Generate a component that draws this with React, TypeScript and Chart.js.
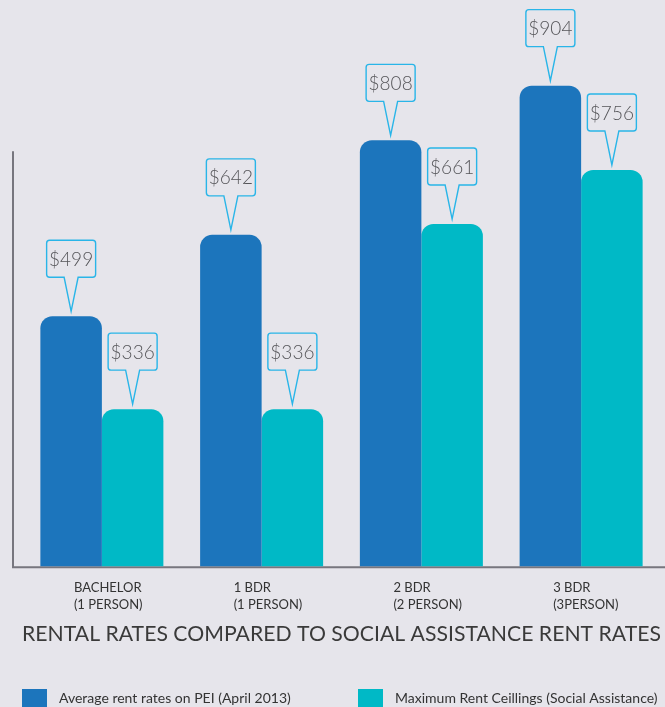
import React, { useEffect, useRef } from 'react';
import { Chart, registerables } from 'chart.js';

Chart.register(...registerables);

const categories: string[][] = [
  ['BACHELOR', '(1 PERSON)'],
  ['1 BDR', '(1 PERSON)'],
  ['2 BDR', '(2 PERSON)'],
  ['3 BDR', '(3PERSON)'],
];
const averageRent = [499, 642, 808, 904];
const maxCeiling = [336, 336, 661, 756];
const seriesNames = [
  'Average rent rates on PEI (April 2013)',
  'Maximum Rent Ceillings (Social Assistance)',
];
const seriesColors = ['#1C75BC', '#00B9C6'];
const titleText = 'RENTAL RATES COMPARED TO SOCIAL ASSISTANCE RENT RATES';

const BG = '#E6E5EB';
const FONT = "Lato, 'Open Sans', sans-serif";

const axisLinesPlugin = {
  id: 'axisLines',
  beforeDatasetsDraw(chart: any) {
    const { ctx, chartArea } = chart;
    ctx.save();
    ctx.strokeStyle = '#77767E';
    ctx.lineWidth = 2;
    ctx.beginPath();
    ctx.moveTo(chartArea.left - 9, chartArea.bottom + 2);
    ctx.lineTo(chartArea.left - 9, chartArea.bottom - 415);
    ctx.moveTo(chartArea.left - 10, chartArea.bottom + 1);
    ctx.lineTo(chart.width, chartArea.bottom + 1);
    ctx.stroke();
    ctx.restore();
  },
};

const calloutPlugin = {
  id: 'callouts',
  afterDatasetsDraw(chart: any) {
    const { ctx } = chart;
    chart.data.datasets.forEach((ds: any, di: number) => {
      const meta = chart.getDatasetMeta(di);
      meta.data.forEach((bar: any, i: number) => {
        const cx = bar.x;
        const apex = bar.y - 5;
        const bottom = apex - 34;
        const top = bottom - 37;
        const left = cx - 24.5;
        const right = cx + 24.5;
        const r = 3;
        ctx.save();
        ctx.beginPath();
        ctx.moveTo(left + r, top);
        ctx.lineTo(right - r, top);
        ctx.arcTo(right, top, right, top + r, r);
        ctx.lineTo(right, bottom - r);
        ctx.arcTo(right, bottom, right - r, bottom, r);
        ctx.lineTo(cx + 7, bottom);
        ctx.lineTo(cx, apex);
        ctx.lineTo(cx - 7, bottom);
        ctx.lineTo(left + r, bottom);
        ctx.arcTo(left, bottom, left, bottom - r, r);
        ctx.lineTo(left, top + r);
        ctx.arcTo(left, top, left + r, top, r);
        ctx.closePath();
        ctx.fillStyle = BG;
        ctx.fill();
        ctx.strokeStyle = '#29B5E8';
        ctx.lineWidth = 1.4;
        ctx.stroke();
        ctx.fillStyle = '#555559';
        ctx.font = `300 19px ${FONT}`;
        ctx.textAlign = 'center';
        ctx.textBaseline = 'middle';
        ctx.fillText('$' + ds.data[i], cx, (top + bottom) / 2 + 1);
        ctx.restore();
      });
    });
  },
};

const legendPlugin = {
  id: 'customLegend',
  afterDraw(chart: any) {
    const { ctx } = chart;
    const xs = [22, 358];
    ctx.save();
    chart.data.datasets.forEach((ds: any, di: number) => {
      const x = xs[di];
      ctx.fillStyle = ds.backgroundColor;
      ctx.fillRect(x, chart.height - 18, 25, 25);
      ctx.fillStyle = '#333333';
      ctx.font = `14px ${FONT}`;
      ctx.textAlign = 'left';
      ctx.textBaseline = 'alphabetic';
      ctx.fillText(ds.label, x + 37, chart.height - 4);
    });
    ctx.restore();
  },
};

export default function App() {
  const canvasRef = useRef<HTMLCanvasElement | null>(null);

  useEffect(() => {
    if (!canvasRef.current) return;
    const chart = new Chart(canvasRef.current, {
      type: 'bar',
      data: {
        labels: categories,
        datasets: [
          {
            label: seriesNames[0],
            data: averageRent,
            backgroundColor: seriesColors[0],
            borderRadius: { topLeft: 12, topRight: 12, bottomLeft: 0, bottomRight: 0 },
            borderSkipped: false,
            categoryPercentage: 0.77,
            barPercentage: 1,
          },
          {
            label: seriesNames[1],
            data: maxCeiling,
            backgroundColor: seriesColors[1],
            borderRadius: { topLeft: 12, topRight: 12, bottomLeft: 0, bottomRight: 0 },
            borderSkipped: false,
            categoryPercentage: 0.77,
            barPercentage: 1,
          },
        ],
      },
      options: {
        animation: false,
        responsive: false,
        maintainAspectRatio: false,
        layout: { padding: { top: 31, left: 22, right: 4, bottom: 50 } },
        scales: {
          x: {
            grid: { display: false, drawTicks: false },
            border: { display: false },
            ticks: {
              color: '#333333',
              font: { family: FONT, size: 13, lineHeight: 1.3 },
              padding: 13,
              align: 'start',
              labelOffset: -28,
              maxRotation: 0,
              autoSkip: false,
            },
          },
          y: {
            display: false,
            min: 60,
            max: 1000,
          },
        },
        plugins: {
          legend: { display: false },
          tooltip: { enabled: false },
          title: {
            display: true,
            text: titleText,
            position: 'bottom',
            align: 'start',
            color: '#3A3A3A',
            font: { family: FONT, size: 22, weight: 'normal', lineHeight: 0.7 },
            padding: { top: 0, bottom: 15.5 },
          },
        },
      },
      plugins: [axisLinesPlugin, calloutPlugin, legendPlugin],
    });
    return () => chart.destroy();
  }, []);

  return (
    <div style={{ position: 'absolute', left: 0, top: 0, width: 665, height: 707, background: BG, overflow: 'hidden' }}>
      <canvas ref={canvasRef} width={665} height={707} style={{ display: 'block', width: 665, height: 707 }} />
    </div>
  );
}
